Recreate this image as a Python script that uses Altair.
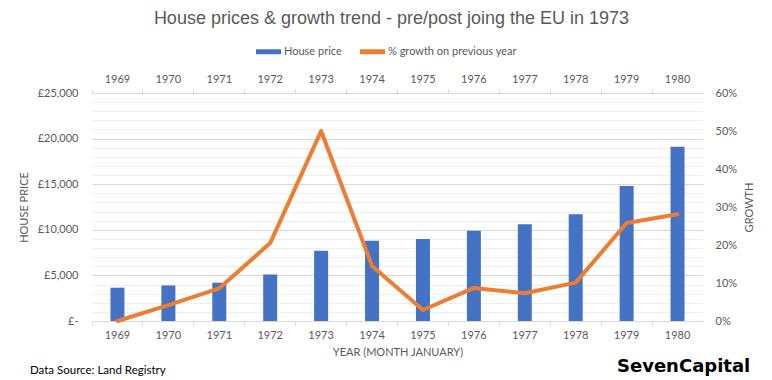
import altair as alt
import pandas as pd

years = ["1969", "1970", "1971", "1972", "1973", "1974", "1975", "1976", "1977", "1978", "1979", "1980"]
house_price = [3650, 3900, 4200, 5100, 7700, 8800, 9000, 9900, 10600, 11700, 14800, 19100]
growth_pct = [0.0, 4.2, 8.6, 20.5, 50.0, 14.5, 2.9, 8.7, 7.3, 10.1, 25.8, 28.1]
series_names = ["House price", "% growth on previous year"]
series_colors = ["#4472C4", "#ED7D31"]

df = pd.DataFrame({
    "year": years,
    "price": house_price,
    "growth": [g / 100 for g in growth_pct],
    "series": series_names[0],
})

FONT = "Lato"
GREY = "#595959"
W, H = 611, 228

x_scale = alt.Scale(domain=years, paddingInner=0, paddingOuter=0)

bottom_axis = alt.Axis(
    orient="bottom", title="YEAR (MONTH JANUARY)", bandPosition=0,
    labelAngle=0, ticks=True, tickSize=4, tickColor="#d9d9d9", domainColor="#d9d9d9",
    labelPadding=4, titlePadding=6, labelFont=FONT, titleFont=FONT, labelFontSize=11,
    titleFontSize=11, titleFontWeight="normal", labelColor=GREY, titleColor=GREY, grid=False,
)
top_axis = alt.Axis(
    orient="top", title=None, bandPosition=0, labelAngle=0,
    ticks=True, tickSize=4, tickColor="#d9d9d9", domainColor="#d9d9d9", labelPadding=5,
    labelFont=FONT, labelFontSize=11, labelColor=GREY, grid=False,
)

left_axis = alt.Axis(
    title="HOUSE PRICE", values=list(range(0, 25001, 1000)),
    labelExpr="datum.value % 5000 === 0 ? (datum.value === 0 ? '£-' : '£' + format(datum.value, ',')) : ''",
    grid=True,
    gridColor=alt.condition("datum.value % 5000 === 0", alt.value("#d9d9d9"), alt.value("#efefef")),
    ticks=False, domain=False, labelPadding=14, titlePadding=8,
    labelFont=FONT, titleFont=FONT, labelFontSize=11, titleFontSize=11,
    titleFontWeight="normal", labelColor=GREY, titleColor=GREY,
)
right_axis = alt.Axis(
    orient="right", title="GROWTH", values=[0, 0.1, 0.2, 0.3, 0.4, 0.5, 0.6], format=".0%",
    grid=False, ticks=False, domain=False, labelPadding=12, titlePadding=18, titleAngle=270,
    labelFont=FONT, titleFont=FONT, labelFontSize=11, titleFontSize=11,
    titleFontWeight="normal", labelColor=GREY, titleColor=GREY,
)

legend = alt.Legend(
    title=None, orient="none", legendX=164, legendY=-54, direction="horizontal",
    symbolType="M-1,-0.2H1V0.2H-1Z", symbolSize=625, symbolStrokeWidth=0,
    labelFont=FONT, labelFontSize=11, labelColor=GREY, columnPadding=18, labelOffset=3,
)

bars = alt.Chart(df).mark_bar(size=14).encode(
    x=alt.X("year:N", scale=x_scale, axis=bottom_axis),
    y=alt.Y("price:Q", scale=alt.Scale(domain=[0, 25000], nice=False), axis=left_axis),
    color=alt.Color("series:N", scale=alt.Scale(domain=series_names, range=series_colors), legend=legend),
)

line = alt.Chart(df).mark_line(strokeWidth=4, color=series_colors[1], strokeJoin="round", strokeCap="round").encode(
    x=alt.X("year:N", scale=x_scale, axis=top_axis),
    y=alt.Y("growth:Q", scale=alt.Scale(domain=[0, 0.6], nice=False), axis=right_axis),
)

notes = pd.DataFrame({"t": ["Data Source: Land Registry"]})
source = alt.Chart(notes).mark_text(align="left", baseline="alphabetic", font=FONT, fontSize=11.5, color="#000000").encode(
    text="t:N", x=alt.value(-62), y=alt.value(281),
)
logo_df = pd.DataFrame({"t": ["SevenCapital"]})
logo = alt.Chart(logo_df).mark_text(align="left", baseline="alphabetic", font="DejaVu Sans", fontSize=18,
                                    fontWeight="bold", color="#000000").encode(
    text="t:N", x=alt.value(525), y=alt.value(279),
)

chart = alt.layer(bars, line, source, logo).resolve_scale(y="independent").resolve_axis(
    x="independent", y="independent"
).properties(
    width=W, height=H,
    title=alt.TitleParams(
        "House prices & growth trend - pre/post joing the EU in 1973",
        font="Liberation Sans", fontSize=18, fontWeight="normal", color=GREY, anchor="middle", offset=11, dx=-6,
    ),
    autosize=alt.AutoSizeParams(type="none"),
    padding={"left": 84, "top": 85, "right": 61, "bottom": 59},
).configure_view(stroke=None)

chart.save("out.html", embed_options={"renderer": "svg", "actions": False})
